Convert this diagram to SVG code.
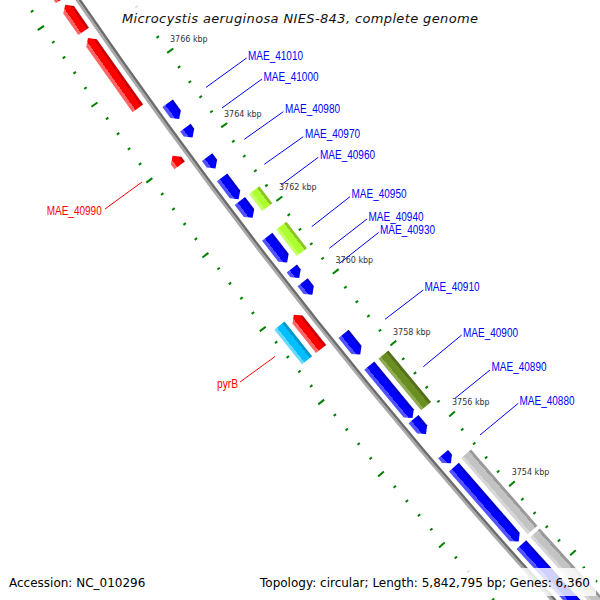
<svg xmlns="http://www.w3.org/2000/svg" xmlns:xlink="http://www.w3.org/1999/xlink" width="600" height="600" viewBox="0 0 600 600">
<defs>
<style>
.tk{stroke:#008000;stroke-width:2;fill:none}
.b{fill:url(#gB)}.r{fill:url(#gR)}.y{fill:url(#gY)}.o{fill:url(#gO)}.g{fill:url(#gG)}.c{fill:url(#gC)}
.kl{font-family:"DejaVu Sans",sans-serif;font-size:8px;fill:#333}
.gl{font-family:"Liberation Sans",Arial,sans-serif;font-size:12px;fill:#0000ff}
.rl{font-family:"Liberation Sans",Arial,sans-serif;font-size:12px;fill:#ff0000}
.lb{stroke:#0000ff;stroke-width:1}
.lr{stroke:#ff0000;stroke-width:1}
.ft{font-family:"DejaVu Sans",sans-serif;font-size:12px;fill:#000}
.box{fill:#fff;fill-opacity:0.82}
</style>
<linearGradient id="gB" x1="0" y1="0" x2="1" y2="0"><stop offset="0" stop-color="#0000c8"/><stop offset="0.2" stop-color="#0000c8"/><stop offset="0.2" stop-color="#0000ff"/><stop offset="0.72" stop-color="#0000ff"/><stop offset="0.72" stop-color="#5252ff"/><stop offset="1" stop-color="#5252ff"/></linearGradient>
<linearGradient id="gR" x1="0" y1="0" x2="1" y2="0"><stop offset="0" stop-color="#c80000"/><stop offset="0.2" stop-color="#c80000"/><stop offset="0.2" stop-color="#ff0000"/><stop offset="0.72" stop-color="#ff0000"/><stop offset="0.72" stop-color="#ff6464"/><stop offset="1" stop-color="#ff6464"/></linearGradient>
<linearGradient id="gY" x1="0" y1="0" x2="1" y2="0"><stop offset="0" stop-color="#8ac626"/><stop offset="0.22" stop-color="#8ac626"/><stop offset="0.22" stop-color="#adff2f"/><stop offset="0.75" stop-color="#adff2f"/><stop offset="0.75" stop-color="#c4ff6a"/><stop offset="1" stop-color="#c4ff6a"/></linearGradient>
<linearGradient id="gO" x1="0" y1="0" x2="1" y2="0"><stop offset="0" stop-color="#55701c"/><stop offset="0.22" stop-color="#55701c"/><stop offset="0.22" stop-color="#6b8e23"/><stop offset="0.75" stop-color="#6b8e23"/><stop offset="0.75" stop-color="#8fab55"/><stop offset="1" stop-color="#8fab55"/></linearGradient>
<linearGradient id="gG" x1="0" y1="0" x2="1" y2="0"><stop offset="0" stop-color="#9a9a9a"/><stop offset="0.22" stop-color="#9a9a9a"/><stop offset="0.22" stop-color="#c3c3c3"/><stop offset="0.75" stop-color="#c3c3c3"/><stop offset="0.75" stop-color="#d6d6d6"/><stop offset="1" stop-color="#d6d6d6"/></linearGradient>
<linearGradient id="gC" x1="0" y1="0" x2="1" y2="0"><stop offset="0" stop-color="#0098cc"/><stop offset="0.22" stop-color="#0098cc"/><stop offset="0.22" stop-color="#00bfff"/><stop offset="0.75" stop-color="#00bfff"/><stop offset="0.75" stop-color="#66d9ff"/><stop offset="1" stop-color="#66d9ff"/></linearGradient>
<g id="mn" class="tk"><line x1="5605.5" y1="0" x2="5608.5" y2="0"/><line x1="5694" y1="0" x2="5697" y2="0"/></g>
<g id="mj" class="tk"><line x1="5601" y1="0" x2="5608.5" y2="0"/><line x1="5694" y1="0" x2="5701.5" y2="0"/></g>
</defs>
<rect width="600" height="600" fill="#fff"/>
<g id="ruler" transform="translate(4736 -3200)">
<use href="#mn" transform="rotate(137.4034)"/><use href="#mn" transform="rotate(137.5914)"/><use href="#mn" transform="rotate(137.7795)"/><use href="#mj" transform="rotate(137.9676)"/>
<use href="#mn" transform="rotate(138.1557)"/><use href="#mn" transform="rotate(138.3438)"/><use href="#mn" transform="rotate(138.5318)"/><use href="#mn" transform="rotate(138.7199)"/><use href="#mj" transform="rotate(138.9080)"/>
<use href="#mn" transform="rotate(139.0961)"/><use href="#mn" transform="rotate(139.2842)"/><use href="#mn" transform="rotate(139.4722)"/><use href="#mn" transform="rotate(139.6603)"/><use href="#mj" transform="rotate(139.8484)"/>
<use href="#mn" transform="rotate(140.0365)"/><use href="#mn" transform="rotate(140.2246)"/><use href="#mn" transform="rotate(140.4126)"/><use href="#mn" transform="rotate(140.6007)"/><use href="#mj" transform="rotate(140.7888)"/>
<use href="#mn" transform="rotate(140.9769)"/><use href="#mn" transform="rotate(141.1650)"/><use href="#mn" transform="rotate(141.3530)"/><use href="#mn" transform="rotate(141.5411)"/><use href="#mj" transform="rotate(141.7292)"/>
<use href="#mn" transform="rotate(141.9173)"/><use href="#mn" transform="rotate(142.1054)"/><use href="#mn" transform="rotate(142.2934)"/><use href="#mn" transform="rotate(142.4815)"/><use href="#mj" transform="rotate(142.6696)"/>
<use href="#mn" transform="rotate(142.8577)"/><use href="#mn" transform="rotate(143.0458)"/><use href="#mn" transform="rotate(143.2338)"/><use href="#mn" transform="rotate(143.4219)"/><use href="#mj" transform="rotate(143.6100)"/>
<use href="#mn" transform="rotate(143.7981)"/><use href="#mn" transform="rotate(143.9862)"/><use href="#mn" transform="rotate(144.1742)"/><use href="#mn" transform="rotate(144.3623)"/><use href="#mj" transform="rotate(144.5504)"/>
<use href="#mn" transform="rotate(144.7385)"/><use href="#mn" transform="rotate(144.9266)"/><use href="#mn" transform="rotate(145.1146)"/><use href="#mn" transform="rotate(145.3027)"/><use href="#mj" transform="rotate(145.4908)"/>
<use href="#mn" transform="rotate(145.6789)"/><use href="#mn" transform="rotate(145.8670)"/><use href="#mn" transform="rotate(146.0550)"/>
</g>
<g id="tick-labels" class="kl">
<text x="170" y="42">3766 kbp</text>
<text x="224" y="116.5">3764 kbp</text>
<text x="279" y="190">3762 kbp</text>
<text x="335.5" y="262.5">3760 kbp</text>
<text x="393" y="334.5">3758 kbp</text>
<text x="452" y="405.3">3756 kbp</text>
<text x="511.7" y="475">3754 kbp</text>
</g>
<g id="backbone" transform="translate(4736 -3200)" fill="none">
<circle r="5652.25" stroke="#a8a8a8" stroke-width="2.5"/>
<circle r="5649.75" stroke="#6c6c6c" stroke-width="2.5"/>
</g>
<g id="features" transform="translate(4736 -3200)">
<g id="gene-R1"><polygon class="r" transform="rotate(146.2816) translate(5658 0)" points="0,-66.5 13,-66.5 13,60.5 6.5,66.5 0,60.5"/></g>
<g id="gene-R2"><polygon class="r" transform="rotate(145.3808) translate(5658 0)" points="0,-16.15 13,-16.15 13,10.15 6.5,16.15 0,10.15"/></g>
<g id="gene-R3"><polygon class="r" transform="rotate(144.7010) translate(5658 0)" points="0,-43.1 13,-43.1 13,37.1 6.5,43.1 0,37.1"/></g>
<g id="MAE_40990"><polygon class="r" transform="rotate(143.61) translate(5658 0)" points="0,-6 13,-6 13,0 6.5,6 0,0"/></g>
<g id="pyrB"><polygon class="r" transform="rotate(141.4261) translate(5658 0)" points="0,-21.9 13,-21.9 13,15.9 6.5,21.9 0,15.9"/><rect class="c" transform="rotate(141.4286) translate(5676 0)" x="0" y="-22.15" width="13" height="44.3"/></g>
<g id="MAE_41010"><polygon class="b" transform="rotate(144.0308) translate(5631 0)" points="0,-3.8 6.5,-9.8 13,-3.8 13,9.8 0,9.8"/></g>
<g id="MAE_41000"><polygon class="b" transform="rotate(143.7621) translate(5631 0)" points="0,0 6.5,-6 13,0 13,6 0,6"/></g>
<g id="MAE_40980"><polygon class="b" transform="rotate(143.3798) translate(5631 0)" points="0,-1 6.5,-7 13,-1 13,7 0,7"/></g>
<g id="MAE_40970"><polygon class="b" transform="rotate(143.0564) translate(5631 0)" points="0,-7.7 6.5,-13.7 13,-7.7 13,13.7 0,13.7"/></g>
<g id="MAE_40960"><polygon class="b" transform="rotate(142.7882) translate(5631 0)" points="0,-4.55 6.5,-10.55 13,-4.55 13,10.55 0,10.55"/><rect class="y" transform="rotate(142.7862) translate(5613 0)" x="0" y="-10.75" width="13" height="21.5"/></g>
<g id="MAE_40950"><polygon class="b" transform="rotate(142.2717) translate(5631 0)" points="0,-10.3 6.5,-16.3 13,-10.3 13,16.3 0,16.3"/><rect class="y" transform="rotate(142.2691) translate(5613 0)" x="0" y="-16.75" width="13" height="33.5"/></g>
<g id="MAE_40940"><polygon class="b" transform="rotate(141.9675) translate(5631 0)" points="0,0 6.5,-6 13,0 13,6 0,6"/></g>
<g id="MAE_40930"><polygon class="b" transform="rotate(141.7708) translate(5631 0)" points="0,-1.9 6.5,-7.9 13,-1.9 13,7.9 0,7.9"/></g>
<g id="MAE_40910"><polygon class="b" transform="rotate(141.0474) translate(5631 0)" points="0,-7.25 6.5,-13.25 13,-7.25 13,13.25 0,13.25"/></g>
<g id="MAE_40900"><polygon class="b" transform="rotate(140.4208) translate(5631 0)" points="0,-27.95 6.5,-33.95 13,-27.95 13,33.95 0,33.95"/><rect class="o" transform="rotate(140.4213) translate(5613 0)" x="0" y="-33.5" width="13" height="67"/></g>
<g id="MAE_40890"><polygon class="b" transform="rotate(139.9630) translate(5631 0)" points="0,-3.7 6.5,-9.7 13,-3.7 13,9.7 0,9.7"/></g>
<g id="MAE_40880"><polygon class="b" transform="rotate(139.5341) translate(5631 0)" points="0,0 6.5,-6 13,0 13,6 0,6"/></g>
<g id="gene-B13"><polygon class="b" transform="rotate(138.9227) translate(5631 0)" points="0,-43.3 6.5,-49.3 13,-43.3 13,49.3 0,49.3"/><rect class="g" transform="rotate(138.9309) translate(5613 0)" x="0" y="-50.5" width="13" height="101"/></g>
<g id="gene-B14"><polygon class="b" transform="rotate(137.7497) translate(5631 0)" points="0,-56 6.5,-62 13,-56 13,62 0,62"/><rect class="g" transform="rotate(137.7466) translate(5613 0)" x="0" y="-61.7" width="13" height="123.4"/></g>
</g>
<g id="connectors">
<line class="lb" x1="206" y1="87.4" x2="246.6" y2="58"/>
<line class="lb" x1="222" y1="108" x2="262" y2="79"/>
<line class="lb" x1="244.3" y1="139.3" x2="283.3" y2="111.7"/>
<line class="lb" x1="264.3" y1="164.3" x2="303.3" y2="136.7"/>
<line class="lb" x1="281" y1="185" x2="318.3" y2="157.3"/>
<line class="lb" x1="311.7" y1="226.7" x2="350" y2="196.7"/>
<line class="lb" x1="329.3" y1="248.3" x2="367" y2="219"/>
<line class="lb" x1="339.3" y1="263.5" x2="378.6" y2="232.5"/>
<line class="lb" x1="385" y1="319.3" x2="423.3" y2="290"/>
<line class="lb" x1="423.3" y1="366.7" x2="461.7" y2="335"/>
<line class="lb" x1="455" y1="398.3" x2="490" y2="370"/>
<line class="lb" x1="480" y1="435" x2="518.3" y2="403.3"/>
<line class="lr" x1="142" y1="182" x2="105" y2="209"/>
<line class="lr" x1="275" y1="356.5" x2="240" y2="382"/>
</g>
<g id="gene-labels">
<text class="gl" x="248" y="60" textLength="55" lengthAdjust="spacingAndGlyphs">MAE_41010</text>
<text class="gl" x="263.5" y="81" textLength="55" lengthAdjust="spacingAndGlyphs">MAE_41000</text>
<text class="gl" x="285" y="112.5" textLength="55" lengthAdjust="spacingAndGlyphs">MAE_40980</text>
<text class="gl" x="305" y="137.5" textLength="55" lengthAdjust="spacingAndGlyphs">MAE_40970</text>
<text class="gl" x="320" y="158.5" textLength="55" lengthAdjust="spacingAndGlyphs">MAE_40960</text>
<text class="gl" x="351.5" y="198" textLength="55" lengthAdjust="spacingAndGlyphs">MAE_40950</text>
<text class="gl" x="368.5" y="220.5" textLength="55" lengthAdjust="spacingAndGlyphs">MAE_40940</text>
<text class="gl" x="380" y="234" textLength="55" lengthAdjust="spacingAndGlyphs">MAE_40930</text>
<text class="gl" x="424.5" y="291" textLength="55" lengthAdjust="spacingAndGlyphs">MAE_40910</text>
<text class="gl" x="463" y="336.5" textLength="55" lengthAdjust="spacingAndGlyphs">MAE_40900</text>
<text class="gl" x="491.5" y="371" textLength="55" lengthAdjust="spacingAndGlyphs">MAE_40890</text>
<text class="gl" x="519.5" y="404.5" textLength="55" lengthAdjust="spacingAndGlyphs">MAE_40880</text>
<text class="rl" x="46.7" y="214.5" textLength="55" lengthAdjust="spacingAndGlyphs">MAE_40990</text>
<text class="rl" x="217" y="388" textLength="21" lengthAdjust="spacingAndGlyphs">pyrB</text>
</g>
<g id="title">
<rect class="box" x="116" y="2" width="368" height="27"/>
<text x="300" y="22.5" text-anchor="middle" font-family="DejaVu Sans, sans-serif" font-style="italic" font-size="13" fill="#111" textLength="356" lengthAdjust="spacing">Microcystis aeruginosa NIES-843, complete genome</text>
</g>
<g id="legend">
<rect class="box" x="4" y="568" width="145" height="28"/>
<rect class="box" x="255" y="568" width="341" height="28"/>
<text class="ft" x="9" y="586.5">Accession: NC_010296</text>
<text class="ft" x="260" y="586.5" textLength="330" lengthAdjust="spacing">Topology: circular; Length: 5,842,795 bp; Genes: 6,360</text>
</g>
</svg>
